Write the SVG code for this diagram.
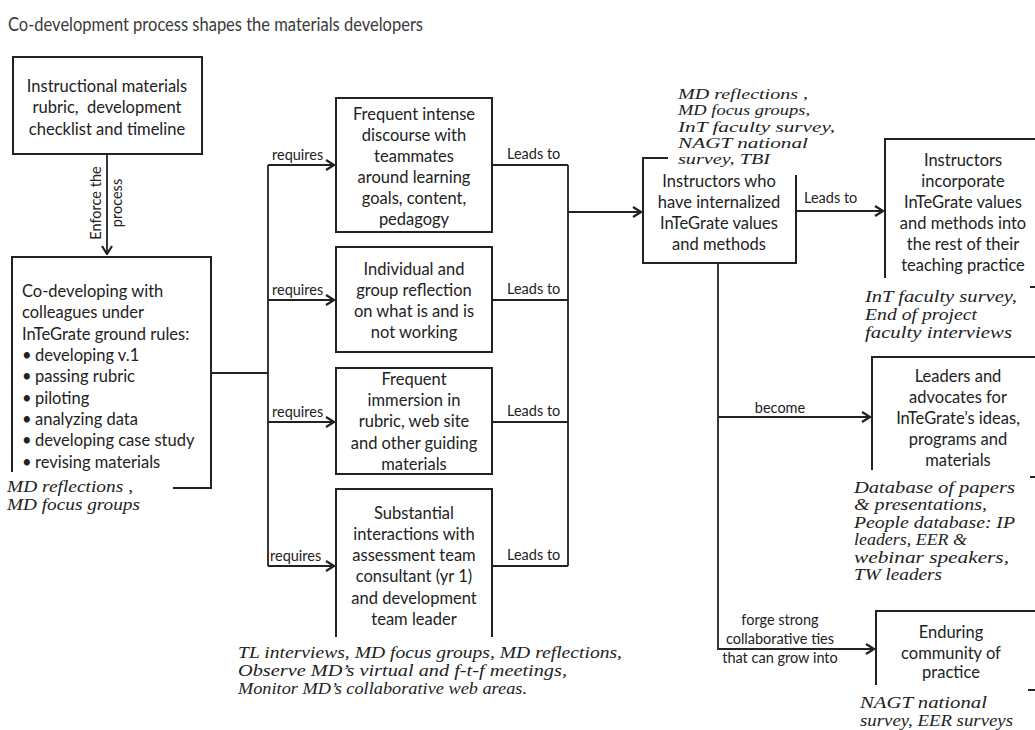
<svg xmlns="http://www.w3.org/2000/svg" width="1035" height="730" viewBox="0 0 1035 730">
<style>
.bg{fill:#fff}
.box{fill:none;stroke:#222;stroke-width:2}
.conn{fill:none;stroke:#222;stroke-width:1.8}
.t{font-family:Lato,"Liberation Sans",sans-serif;font-size:16.5px;fill:#222}
.c{text-anchor:middle}
.lbl{font-family:Lato,"Liberation Sans",sans-serif;font-size:14.5px;fill:#222}
.ev{font-family:"Liberation Serif","DejaVu Serif",serif;font-style:italic;font-size:16.5px;fill:#222}
.ev2{font-size:15px}
.title{font-family:Lato,"Liberation Sans",sans-serif;font-size:19.5px;fill:#3a3a3a}
</style>
<defs>
<marker id="arr" markerUnits="userSpaceOnUse" viewBox="0 0 10 12" refX="9" refY="6" markerWidth="10" markerHeight="12" orient="auto">
<path d="M1,1 L9,6 L1,11" fill="none" stroke="#222" stroke-width="2.2"/>
</marker>
</defs>
<rect class="bg" width="1035" height="730"/>
<text class="title" x="8" y="31" textLength="415" lengthAdjust="spacingAndGlyphs">Co-development process shapes the materials developers</text>

<g id="connectors">
<path class="conn" d="M107,154 V254" marker-end="url(#arr)"/>
<path class="conn" d="M211,373 H268" stroke-width="2.6"/>
<path class="conn" d="M268,165 V566"/>
<path class="conn" d="M268,165 H334" marker-end="url(#arr)"/>
<path class="conn" d="M268,300 H334" marker-end="url(#arr)"/>
<path class="conn" d="M268,422 H334" marker-end="url(#arr)"/>
<path class="conn" d="M268,566 H334" marker-end="url(#arr)"/>
<path class="conn" d="M492,165 H568 M492,300 H568 M492,422 H568 M492,566 H568 M568,165 V566"/>
<path class="conn" d="M568,212 H641" marker-end="url(#arr)"/>
<path class="conn" d="M796,211 H883" marker-end="url(#arr)"/>
<path class="conn" d="M718,263 V649 H874" marker-end="url(#arr)"/>
<path class="conn" d="M718,417 H870" marker-end="url(#arr)"/>
<text class="lbl" transform="translate(101,203) rotate(-90)" text-anchor="middle">Enforce the</text>
<text class="lbl" transform="translate(122,203) rotate(-90)" text-anchor="middle">process</text>
<text class="lbl" x="272" y="160">requires</text>
<text class="lbl" x="272" y="295">requires</text>
<text class="lbl" x="272" y="417">requires</text>
<text class="lbl" x="270" y="561">requires</text>
<text class="lbl" x="507" y="159">Leads to</text>
<text class="lbl" x="507" y="294">Leads to</text>
<text class="lbl" x="507" y="416">Leads to</text>
<text class="lbl" x="507" y="560">Leads to</text>
<text class="lbl" x="804" y="203">Leads to</text>
<text class="lbl c" x="780" y="413">become</text>
<text class="lbl c" x="780" y="625">forge strong</text>
<text class="lbl c" x="780" y="644">collaborative ties</text>
<text class="lbl c" x="780" y="663">that can grow into</text>
</g>

<g id="rubric">
<rect class="box" x="13" y="57" width="189" height="97"/>
<text class="t c" x="107" y="92">Instructional materials</text>
<text class="t c" x="107" y="113">rubric, &#160;development</text>
<text class="t c" x="107" y="135">checklist and timeline</text>
</g>

<g id="codeveloping">
<path class="box" d="M12,472 V257 H211 V488 H173"/>
<text class="t" x="22" y="297">Co-developing with</text>
<text class="t" x="22" y="318">colleagues under</text>
<text class="t" x="22" y="340">InTeGrate ground rules:</text>
<text class="t" y="361"><tspan x="22">•</tspan><tspan x="35">developing v.1</tspan></text>
<text class="t" y="382"><tspan x="22">•</tspan><tspan x="35">passing rubric</tspan></text>
<text class="t" y="404"><tspan x="22">•</tspan><tspan x="35">piloting</tspan></text>
<text class="t" y="425"><tspan x="22">•</tspan><tspan x="35">analyzing data</tspan></text>
<text class="t" y="446"><tspan x="22">•</tspan><tspan x="35">developing case study</tspan></text>
<text class="t" y="468"><tspan x="22">•</tspan><tspan x="35">revising materials</tspan></text>
<text class="ev" x="7" y="492" textLength="126" lengthAdjust="spacingAndGlyphs">MD reflections ,</text>
<text class="ev" x="7" y="510" textLength="133" lengthAdjust="spacingAndGlyphs">MD focus groups</text>
</g>

<g id="discourse">
<rect class="box" x="336" y="98" width="156" height="134"/>
<text class="t c" x="414" y="120">Frequent intense</text>
<text class="t c" x="414" y="141">discourse with</text>
<text class="t c" x="414" y="162">teammates</text>
<text class="t c" x="414" y="183">around learning</text>
<text class="t c" x="414" y="204">goals, content,</text>
<text class="t c" x="414" y="225">pedagogy</text>
</g>

<g id="reflection">
<rect class="box" x="336" y="247" width="156" height="105"/>
<text class="t c" x="414" y="275">Individual and</text>
<text class="t c" x="414" y="296">group reflection</text>
<text class="t c" x="414" y="317">on what is and is</text>
<text class="t c" x="414" y="338">not working</text>
</g>

<g id="immersion">
<rect class="box" x="336" y="368" width="156" height="106"/>
<text class="t c" x="414" y="385">Frequent</text>
<text class="t c" x="414" y="406">immersion in</text>
<text class="t c" x="414" y="427">rubric, web site</text>
<text class="t c" x="414" y="449">and other guiding</text>
<text class="t c" x="414" y="470">materials</text>
</g>

<g id="interactions">
<path class="box" d="M336,637 V489 H492 V637"/>
<text class="t c" x="414" y="519">Substantial</text>
<text class="t c" x="414" y="540">interactions with</text>
<text class="t c" x="414" y="561">assessment team</text>
<text class="t c" x="414" y="582">consultant (yr 1)</text>
<text class="t c" x="414" y="604">and development</text>
<text class="t c" x="414" y="625">team leader</text>
<text class="ev" x="238" y="658" textLength="384" lengthAdjust="spacingAndGlyphs">TL interviews, MD focus groups, MD reflections,</text>
<text class="ev" x="238" y="676" textLength="329" lengthAdjust="spacingAndGlyphs">Observe MD’s virtual and f-t-f meetings,</text>
<text class="ev" x="238" y="694" textLength="289" lengthAdjust="spacingAndGlyphs">Monitor MD’s collaborative web areas.</text>
</g>

<g id="internalized">
<path class="box" d="M668,158 H643 V263 H796 V175"/>
<text class="t c" x="719" y="187">Instructors who</text>
<text class="t c" x="719" y="208">have internalized</text>
<text class="t c" x="719" y="229">InTeGrate values</text>
<text class="t c" x="719" y="250">and methods</text>
<text class="ev ev2" x="678" y="99" textLength="130" lengthAdjust="spacingAndGlyphs">MD reflections ,</text>
<text class="ev ev2" x="678" y="115" textLength="132" lengthAdjust="spacingAndGlyphs">MD focus groups,</text>
<text class="ev ev2" x="678" y="132" textLength="157" lengthAdjust="spacingAndGlyphs">InT faculty survey,</text>
<text class="ev ev2" x="678" y="148" textLength="130" lengthAdjust="spacingAndGlyphs">NAGT national</text>
<text class="ev ev2" x="678" y="164" textLength="92" lengthAdjust="spacingAndGlyphs">survey, TBI</text>
</g>

<g id="incorporate">
<path class="box" d="M885,278 V139 H1035 M1030,287 H1035"/>
<text class="t c" x="963" y="166">Instructors</text>
<text class="t c" x="963" y="187">incorporate</text>
<text class="t c" x="963" y="208">InTeGrate values</text>
<text class="t c" x="963" y="229">and methods into</text>
<text class="t c" x="963" y="250">the rest of their</text>
<text class="t c" x="963" y="271">teaching practice</text>
<text class="ev" x="865" y="302" textLength="152" lengthAdjust="spacingAndGlyphs">InT faculty survey,</text>
<text class="ev" x="865" y="320" textLength="112" lengthAdjust="spacingAndGlyphs">End of project</text>
<text class="ev" x="865" y="338" textLength="147" lengthAdjust="spacingAndGlyphs">faculty interviews</text>
</g>

<g id="leaders">
<path class="box" d="M872,470 V357 H1035 M1030,477 H1035"/>
<text class="t c" x="958" y="382">Leaders and</text>
<text class="t c" x="958" y="403">advocates for</text>
<text class="t c" x="958" y="424">InTeGrate’s ideas,</text>
<text class="t c" x="958" y="445">programs and</text>
<text class="t c" x="958" y="466">materials</text>
<text class="ev" x="854" y="493" textLength="161" lengthAdjust="spacingAndGlyphs">Database of papers</text>
<text class="ev" x="854" y="510" textLength="133" lengthAdjust="spacingAndGlyphs">&amp; presentations,</text>
<text class="ev" x="854" y="528" textLength="161" lengthAdjust="spacingAndGlyphs">People database: IP</text>
<text class="ev" x="854" y="545" textLength="113" lengthAdjust="spacingAndGlyphs">leaders, EER &amp;</text>
<text class="ev" x="854" y="563" textLength="155" lengthAdjust="spacingAndGlyphs">webinar speakers,</text>
<text class="ev" x="854" y="580" textLength="88" lengthAdjust="spacingAndGlyphs">TW leaders</text>
</g>

<g id="community">
<path class="box" d="M876,685 V611 H1035 M1028,690 H1035"/>
<text class="t c" x="951" y="638">Enduring</text>
<text class="t c" x="951" y="659">community of</text>
<text class="t c" x="951" y="678">practice</text>
<text class="ev" x="860" y="708" textLength="127" lengthAdjust="spacingAndGlyphs">NAGT national</text>
<text class="ev" x="860" y="726" textLength="153" lengthAdjust="spacingAndGlyphs">survey, EER surveys</text>
</g>
</svg>
